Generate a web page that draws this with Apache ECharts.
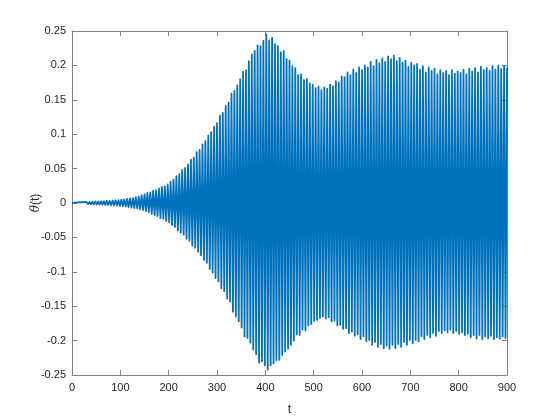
<!DOCTYPE html>
<html>
<head>
<meta charset="utf-8">
<script src="https://cdn.jsdelivr.net/npm/echarts@6/dist/echarts.min.js"></script>
<style>html,body{margin:0;padding:0;background:#fff}#c{width:560px;height:420px}</style>
</head>
<body>
<div id="c"></div>
<script>
// Upper peaks of theta(t), at t = 0, 6, 12, ..., 900
const upperT0 = 0, peakStep = 6;
const upperPeaks = [
  0, 0.0006, 0.0009, 0.0011, 0.0013, 0.0016, 0.0014, 0.0018, 0.0021, 0.0022,
  0.0025, 0.0023, 0.003, 0.0033, 0.0035, 0.0039, 0.0042, 0.0048, 0.0053, 0.006,
  0.0068, 0.0072, 0.0086, 0.0094, 0.011, 0.0125, 0.0145, 0.0155, 0.018, 0.0185,
  0.021, 0.0235, 0.024, 0.027, 0.031, 0.034, 0.039, 0.042, 0.048, 0.051,
  0.056, 0.063, 0.066, 0.074, 0.077, 0.085, 0.090, 0.098, 0.103, 0.111,
  0.116, 0.127, 0.131, 0.141, 0.146, 0.159, 0.163, 0.171, 0.180, 0.191,
  0.193, 0.206, 0.216, 0.221, 0.229, 0.228, 0.236, 0.245, 0.236, 0.240,
  0.231, 0.228, 0.219, 0.221, 0.209, 0.207, 0.199, 0.196, 0.186, 0.187,
  0.179, 0.180, 0.174, 0.172, 0.167, 0.169, 0.164, 0.168, 0.166, 0.172,
  0.170, 0.177, 0.175, 0.184, 0.183, 0.190, 0.186, 0.194, 0.189, 0.197,
  0.193, 0.200, 0.197, 0.205, 0.199, 0.208, 0.203, 0.210, 0.205, 0.213,
  0.209, 0.214, 0.206, 0.211, 0.204, 0.207, 0.198, 0.204, 0.200, 0.202,
  0.194, 0.199, 0.190, 0.197, 0.192, 0.195, 0.187, 0.193, 0.189, 0.192,
  0.186, 0.193, 0.188, 0.191, 0.189, 0.194, 0.187, 0.195, 0.191, 0.196,
  0.190, 0.198, 0.193, 0.196, 0.192, 0.199, 0.194, 0.200, 0.195, 0.199,
  0.197
];
// Lower peaks of theta(t), at t = 3, 9, 15, ..., 897
const lowerT0 = 3;
const lowerPeaks = [
  -0.0003, -0.0007, -0.001, -0.0012, -0.0013, -0.0016, -0.0017, -0.0019, -0.002, -0.0023,
  -0.0024, -0.0027, -0.0029, -0.0033, -0.0036, -0.0038, -0.0043, -0.0047, -0.0052, -0.006,
  -0.0066, -0.0075, -0.008, -0.0093, -0.0105, -0.012, -0.0135, -0.016, -0.0175, -0.019,
  -0.022, -0.023, -0.026, -0.028, -0.032, -0.035, -0.040, -0.043, -0.046, -0.052,
  -0.055, -0.062, -0.065, -0.071, -0.076, -0.083, -0.087, -0.096, -0.101, -0.109,
  -0.114, -0.124, -0.128, -0.139, -0.143, -0.158, -0.165, -0.172, -0.181, -0.194,
  -0.196, -0.203, -0.213, -0.220, -0.232, -0.230, -0.236, -0.242, -0.236, -0.233,
  -0.229, -0.228, -0.221, -0.216, -0.212, -0.206, -0.200, -0.191, -0.192, -0.184,
  -0.185, -0.178, -0.176, -0.171, -0.170, -0.167, -0.165, -0.168, -0.166, -0.172,
  -0.171, -0.178, -0.177, -0.183, -0.182, -0.189, -0.187, -0.193, -0.191, -0.198,
  -0.194, -0.201, -0.199, -0.206, -0.202, -0.209, -0.205, -0.211, -0.207, -0.212,
  -0.206, -0.211, -0.205, -0.209, -0.202, -0.206, -0.199, -0.204, -0.199, -0.201,
  -0.194, -0.198, -0.192, -0.195, -0.189, -0.193, -0.186, -0.189, -0.185, -0.188,
  -0.184, -0.189, -0.186, -0.190, -0.188, -0.192, -0.190, -0.195, -0.192, -0.197,
  -0.192, -0.198, -0.194, -0.197, -0.193, -0.198, -0.195, -0.197, -0.194, -0.196
];
const xTicks = [0, 100, 200, 300, 400, 500, 600, 700, 800, 900];
const yTicks = [-0.25, -0.2, -0.15, -0.1, -0.05, 0, 0.05, 0.1, 0.15, 0.2, 0.25];

const data = [];
for (let i = 0; i < upperPeaks.length; i++) {
  data.push([upperT0 + i * peakStep, upperPeaks[i]]);
  if (i < lowerPeaks.length) data.push([lowerT0 + i * peakStep, lowerPeaks[i]]);
}

const axisCol = '#808080';
const txtCol = '#262626';
const font = 'Liberation Sans, Arial, Helvetica, sans-serif';
const fmt = v => String(parseFloat(v.toFixed(2)));

const chart = echarts.init(document.getElementById('c'), null, {renderer: 'canvas'});
chart.setOption({
  animation: false,
  backgroundColor: '#fff',
  grid: {left: 72, right: 53, top: 31, bottom: 45, containLabel: false, outerBoundsMode: 'none'},
  xAxis: [{
    type: 'value', min: xTicks[0], max: xTicks[xTicks.length - 1], interval: 100,
    name: 't', nameLocation: 'middle', nameGap: 29, nameMoveOverlap: false,
    nameTextStyle: {color: txtCol, fontSize: 12, fontFamily: font},
    axisLine: {onZero: false, lineStyle: {color: axisCol, width: 1}},
    axisTick: {inside: true, length: 5, lineStyle: {color: axisCol}},
    axisLabel: {color: txtCol, fontSize: 11, fontFamily: font, margin: 7},
    splitLine: {show: false}
  }, {
    type: 'value', position: 'top', min: xTicks[0], max: xTicks[xTicks.length - 1], interval: 100,
    axisLine: {onZero: false, lineStyle: {color: axisCol, width: 1}},
    axisTick: {inside: true, length: 5, lineStyle: {color: axisCol}},
    axisLabel: {show: false}, splitLine: {show: false}
  }],
  yAxis: [{
    type: 'value', min: yTicks[0], max: yTicks[yTicks.length - 1], interval: 0.05,
    name: '{i|θ}(t)', nameLocation: 'middle', nameGap: 30, nameRotate: 90, nameMoveOverlap: false,
    nameTextStyle: {color: txtCol, fontSize: 12, fontFamily: font,
      rich: {i: {fontStyle: 'italic', fontSize: 12, color: txtCol, fontFamily: 'DejaVu Serif, serif'}}},
    axisLine: {onZero: false, lineStyle: {color: axisCol, width: 1}},
    axisTick: {inside: true, length: 5, lineStyle: {color: axisCol}},
    axisLabel: {color: txtCol, fontSize: 11, fontFamily: font, margin: 6, formatter: fmt},
    splitLine: {show: false}
  }, {
    type: 'value', position: 'right', min: yTicks[0], max: yTicks[yTicks.length - 1], interval: 0.05,
    axisLine: {onZero: false, lineStyle: {color: axisCol, width: 1}},
    axisTick: {inside: true, length: 5, lineStyle: {color: axisCol}},
    axisLabel: {show: false}, splitLine: {show: false}
  }],
  series: [{
    type: 'line', xAxisIndex: 0, yAxisIndex: 0,
    data: data, showSymbol: false, symbol: 'none', sampling: null,
    lineStyle: {color: '#0072BD', width: 1.8, join: 'round'},
    z: 1
  }]
});
</script>
</body>
</html>
